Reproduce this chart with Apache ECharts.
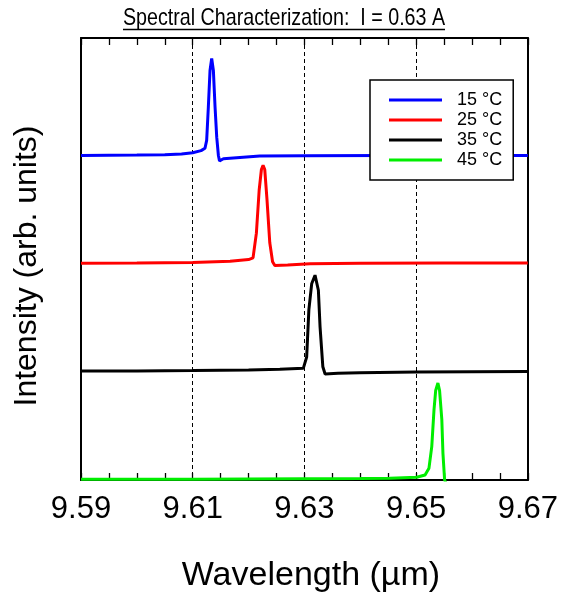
<!DOCTYPE html>
<html>
<head>
<meta charset="utf-8">
<script src="https://cdn.jsdelivr.net/npm/echarts@6/dist/echarts.min.js"></script>
<style>html,body{margin:0;padding:0;background:#fff}#c{width:561px;height:598px}</style>
</head>
<body>
<div id="c"></div>
<script>
const titleText = 'Spectral Characterization:  I = 0.63 A';
const xName = 'Wavelength (\u00b5m)';
const yName = 'Intensity (arb. units)';
const seriesNames = ['15 \u00b0C', '25 \u00b0C', '35 \u00b0C', '45 \u00b0C'];
const seriesColors = ['#0000ff', '#ff0000', '#000000', '#00ee00'];
const xTicks = [9.59, 9.61, 9.63, 9.65, 9.67];

const s15 = [[9.5900,3.010],[9.5950,3.012],[9.6000,3.014],[9.6050,3.018],[9.6080,3.024],[9.6100,3.035],[9.6115,3.055],[9.6122,3.077],[9.6125,3.15],[9.6128,3.46],[9.6131,3.80],[9.6134,3.91],[9.6137,3.80],[9.6140,3.46],[9.6143,3.18],[9.6146,3.01],[9.6148,2.96],[9.6155,2.98],[9.6220,3.005],[9.6300,3.008],[9.6450,3.010],[9.6600,3.010],[9.6700,3.010]];
const s25 = [[9.5900,2.010],[9.6000,2.012],[9.6100,2.018],[9.6167,2.030],[9.6200,2.045],[9.6208,2.06],[9.6214,2.29],[9.6219,2.69],[9.6223,2.88],[9.6226,2.92],[9.6229,2.88],[9.6233,2.60],[9.6238,2.20],[9.6243,2.025],[9.6247,1.990],[9.6270,1.995],[9.6310,2.005],[9.6400,2.010],[9.6550,2.012],[9.6700,2.012]];
const s35 = [[9.5900,1.010],[9.6000,1.012],[9.6100,1.015],[9.6200,1.020],[9.6256,1.027],[9.6298,1.036],[9.6304,1.14],[9.6308,1.58],[9.6313,1.82],[9.6319,1.90],[9.6325,1.76],[9.6328,1.42],[9.6333,1.05],[9.6337,0.983],[9.6360,0.990],[9.6399,0.995],[9.6500,1.002],[9.6600,1.005],[9.6700,1.006]];
const s45 = [[9.5900,0.006],[9.6000,0.007],[9.6100,0.008],[9.6200,0.010],[9.6300,0.012],[9.6400,0.014],[9.6453,0.016],[9.6501,0.025],[9.6516,0.046],[9.6523,0.11],[9.6528,0.31],[9.6532,0.65],[9.6535,0.83],[9.6539,0.90],[9.6542,0.83],[9.6546,0.56],[9.6548,0.25],[9.6551,0.00],[9.6555,-0.05],[9.6600,-0.05],[9.6700,-0.04]];
const seriesData = [s15, s25, s35, s45];

const FONT = '"Liberation Sans", Arial, sans-serif';
const chart = echarts.init(document.getElementById('c'), null, {renderer: 'canvas'});

const tickFmt = v => {
  for (const t of xTicks) if (Math.abs(v - t) < 1e-6) return t.toFixed(2);
  return '';
};

chart.setOption({
  animation: false,
  backgroundColor: '#fff',
  grid: {left: 81, right: 33, top: 38, bottom: 118, containLabel: false},
  graphic: [
    {type: 'text', x: 284, y: 18.3, scaleX: 0.82, z: 10,
     style: {x: 0, y: 0, text: titleText, fill: '#000', font: '24px "Liberation Sans", Arial, sans-serif', align: 'center', verticalAlign: 'middle'}},
    {type: 'line', shape: {x1: 123, y1: 29.5, x2: 445, y2: 29.5}, style: {stroke: '#000', lineWidth: 1.5}}
  ],
  xAxis: [
    {
      type: 'value', min: 9.59, max: 9.67, interval: 0.005, position: 'bottom',
      name: xName, nameLocation: 'middle', nameGap: 79,
      nameTextStyle: {fontFamily: FONT, fontSize: 34, color: '#000', padding: [0, 0, 0, 13]},
      axisLine: {show: true, onZero: false, lineStyle: {color: '#000', width: 2}},
      axisTick: {show: true, inside: true, length: 7, lineStyle: {color: '#000', width: 1.3}},
      axisLabel: {show: true, margin: 14, fontFamily: FONT, fontSize: 31, color: '#000', formatter: tickFmt, showMinLabel: true, showMaxLabel: true, hideOverlap: false},
      splitLine: {show: false}
    },
    {
      type: 'value', min: 9.59, max: 9.67, interval: 0.005, position: 'top',
      axisLine: {show: true, onZero: false, lineStyle: {color: '#000', width: 2}},
      axisTick: {show: true, inside: true, length: 7, lineStyle: {color: '#000', width: 1.3}},
      axisLabel: {show: false},
      splitLine: {show: false}
    },
    {
      type: 'value', min: 9.59, max: 9.67, interval: 0.02, position: 'bottom', offset: 0,
      axisLine: {show: false, onZero: false}, axisTick: {show: false}, axisLabel: {show: false},
      splitLine: {show: true, lineStyle: {color: '#000', width: 1, type: [4, 3]}}
    }
  ],
  yAxis: [
    {
      type: 'value', min: 0, max: 4.1, position: 'left',
      name: yName, nameLocation: 'middle', nameGap: 38,
      nameTextStyle: {fontFamily: FONT, fontSize: 32, color: '#000', padding: [0, 14, 0, 0]},
      axisLine: {show: true, onZero: false, lineStyle: {color: '#000', width: 2}},
      axisTick: {show: false}, axisLabel: {show: false}, splitLine: {show: false}
    },
    {
      type: 'value', min: 0, max: 4.1, position: 'right',
      axisLine: {show: true, onZero: false, lineStyle: {color: '#000', width: 2}},
      axisTick: {show: false}, axisLabel: {show: false}, splitLine: {show: false}
    }
  ],
  legend: {
    orient: 'vertical', left: 370, top: 80,
    backgroundColor: '#fff', borderColor: '#000', borderWidth: 1.5, borderRadius: 0,
    padding: [11, 11, 11, 19], itemGap: 2, itemWidth: 53, itemHeight: 3,
    icon: 'rect',
    textStyle: {fontFamily: FONT, fontSize: 18, color: '#000', padding: [0, 0, 0, 10]},
    data: seriesNames
  },
  series: seriesNames.map((n, i) => ({
    name: n, type: 'line', data: seriesData[i], showSymbol: false, symbol: 'none',
    xAxisIndex: 0, yAxisIndex: 0,
    clip: true, smooth: false,
    lineStyle: {color: seriesColors[i], width: 3},
    itemStyle: {color: seriesColors[i]},
    z: 3
  }))
});
</script>
</body>
</html>
